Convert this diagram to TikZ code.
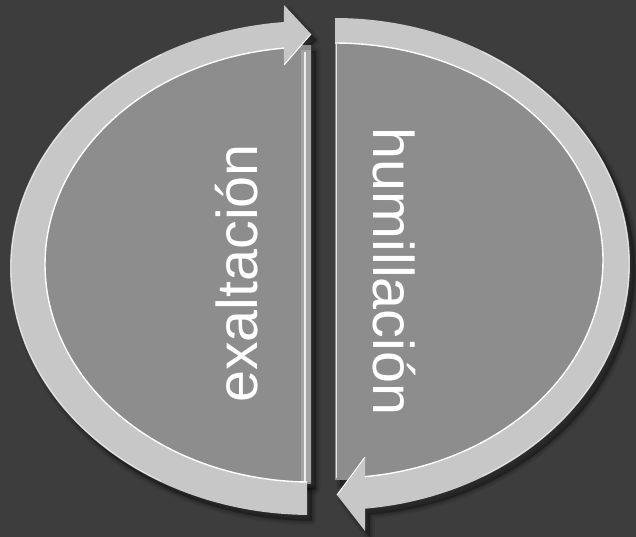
\documentclass[tikz,border=0pt]{standalone}
\usepackage{fontspec}
\setmainfont{Liberation Sans}
\definecolor{bg}{HTML}{3D3D3D}
\definecolor{fillg}{HTML}{8D8D8D}
\definecolor{bandc}{HTML}{C7C7C7}
\definecolor{edgec}{HTML}{A4A4A4}
\begin{document}
\begin{tikzpicture}[x=1pt,y=-1pt,
  bandfill/.style={fill=bandc},
  halffill/.style={fill=fillg},
  hilite/.style={draw=white,line width=1.4pt},
  lbl/.style={text=white,inner sep=0pt,font=\fontsize{57.5}{60}\selectfont}]
\def\LBand{plot[domain=90.76:264.85,samples=120] ({311+301*cos(\x)},{268+247*sin(\x)}) -- (284,5) -- (311,34) -- (284,65) -- plot[domain=264.17:90.86,samples=120] ({311+266*cos(\x)},{264.5+217.5*sin(\x)}) -- cycle}
\def\RBand{plot[domain=-90:84.16,samples=120] ({335+295*cos(\x)},{264+246*sin(\x)}) -- (365,531) -- (337,495) -- (365,457) -- plot[domain=83.57:-90,samples=120] ({335+268*cos(\x)},{260.5+217.5*sin(\x)}) -- cycle}
\def\LHalf{(311,45) -- (311,484) -- plot[domain=90:270,samples=120] ({311+268*cos(\x)},{264.5+219.5*sin(\x)}) -- cycle}
\def\RHalf{(335,41) -- (335,480) -- plot[domain=90:-90,samples=120] ({335+270*cos(\x)},{260.5+219.5*sin(\x)}) -- cycle}
% background
\fill[bg] (0,0) rectangle (636,537);
\useasboundingbox (0,0) rectangle (636,537);
% soft shadows
\begin{scope}[shift={(5,6)}]
  \foreach \w/\o in {9/0.06,6/0.08,3/0.1}{
    \draw[black,opacity=\o,line width=\w pt,line join=round] \LBand;
    \draw[black,opacity=\o,line width=\w pt,line join=round] \RBand;
    \draw[black,opacity=\o,line width=\w pt,line join=round] \LHalf;
    \draw[black,opacity=\o,line width=\w pt,line join=round] \RHalf;
  }
  \fill[black,opacity=0.3] \LBand;
  \fill[black,opacity=0.3] \RBand;
  \fill[black,opacity=0.3] \LHalf;
  \fill[black,opacity=0.3] \RHalf;
\end{scope}
% gray halves
\path[halffill] \LHalf;
\path[halffill] \RHalf;
% straight edge bevels
\fill[edgec] (301,50) rectangle (311,482);
\draw[white!85!gray,line width=1.3pt] (305,52) -- (305,482);
\draw[white!80!gray,line width=1pt] (336,44) -- (336,478);
% bands
\path[bandfill] \LBand;
\path[bandfill] \RBand;
% inner-edge highlights
\draw[hilite] plot[domain=264.17:90.86,samples=120] ({311+266*cos(\x)},{264.5+217.5*sin(\x)});
\draw[hilite] plot[domain=83.57:-90,samples=120] ({335+268*cos(\x)},{260.5+217.5*sin(\x)});
% outer-edge soft highlight
\draw[white!60!bandc,line width=0.8pt] plot[domain=120:240,samples=80] ({311+300*cos(\x)},{268+246*sin(\x)});
\draw[white!60!bandc,line width=0.8pt] plot[domain=-60:60,samples=80] ({335+294*cos(\x)},{264+245*sin(\x)});
% arrowhead bevels
\draw[white,line width=1pt] (311,34) -- (284,65);
\draw[white,line width=1pt] (365,457) -- (337,495);
% labels
\node[lbl,rotate=90,anchor=base] (ex) at (257,273.5) {exaltación};
\node[lbl,rotate=-90,anchor=base] (hu) at (373,271.5) {humillación};
\end{tikzpicture}
\end{document}
